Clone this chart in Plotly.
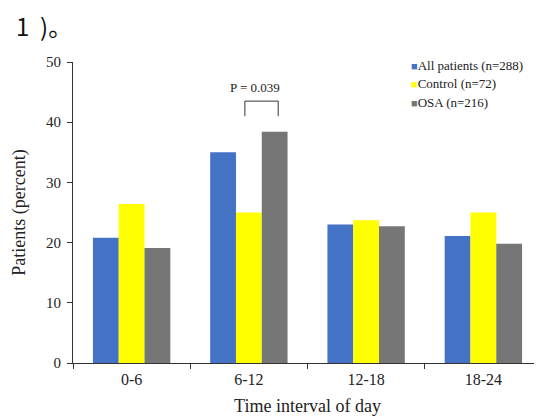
import plotly.graph_objects as go

categories = ["0-6", "6-12", "12-18", "18-24"]
all_patients = [20.8, 35.0, 23.0, 21.1]
control = [26.4, 25.0, 23.7, 25.0]
osa = [19.1, 38.4, 22.7, 19.8]
series_names = ["All patients (n=288)", "Control (n=72)", "OSA (n=216)"]
colors = ["#4472C4", "#FFFF00", "#767676"]

serif = "Liberation Serif, Times New Roman, serif"

fig = go.Figure()
for name, vals, col in zip(series_names, [all_patients, control, osa], colors):
    fig.add_trace(go.Bar(x=categories, y=vals, name=name, marker_color=col,
                         marker_line_width=0, showlegend=False))

# significance bracket
line = dict(color="#333333", width=1)
fig.add_shape(type="line", xref="x", yref="y", x0=0.966, x1=0.966, y0=41.0, y1=43.5, line=line)
fig.add_shape(type="line", xref="x", yref="y", x0=0.966, x1=1.25, y0=43.5, y1=43.5, line=line)
fig.add_shape(type="line", xref="x", yref="y", x0=1.25, x1=1.25, y0=41.0, y1=43.5, line=line)
fig.add_annotation(x=1.05, y=45.8, xref="x", yref="y", text="P = 0.039", showarrow=False,
                   font=dict(family=serif, size=13, color="#222222"))

# legend drawn as text rows
legend_y = [0.990, 0.927, 0.864]
for name, col, ly in zip(series_names, colors, legend_y):
    fig.add_annotation(x=0.716, y=ly, xref="paper", yref="paper", xanchor="left", yanchor="middle",
                       showarrow=False,
                       text=f"<span style='color:{col};font-size:11px'>■</span>{name}",
                       font=dict(family=serif, size=13, color="#222222"))

fig.update_layout(
    width=534, height=408,
    margin=dict(l=65, r=0, t=54, b=53),
    paper_bgcolor="white", plot_bgcolor="white",
    barmode="group", bargap=0.34, bargroupgap=0,
    font=dict(family=serif, color="#222222"),
    showlegend=False,
)
fig.update_xaxes(showline=True, linecolor="#333333", linewidth=1, ticks="outside",
                 tickson="boundaries", ticklen=5, tickcolor="#333333", ticklabelstandoff=2,
                 tickfont=dict(family=serif, size=16, color="#222222"),
                 title=dict(text="Time interval of day", font=dict(family=serif, size=18, color="#222222"), standoff=14),
                 showgrid=False)
fig.update_yaxes(range=[0, 50], dtick=10, showline=True, linecolor="#333333", linewidth=1,
                 ticks="outside", ticklen=5, tickcolor="#333333", showgrid=False, zeroline=False,
                 ticklabelstandoff=3,
                 tickfont=dict(family=serif, size=15, color="#222222"),
                 title=dict(text="Patients (percent)", font=dict(family=serif, size=18, color="#222222"), standoff=15))

fig.add_annotation(x=-0.125, y=1.12, xref="paper", yref="paper", xanchor="left", yanchor="middle",
                   text="1&nbsp; )。", showarrow=False,
                   font=dict(family="Noto Sans CJK SC, Noto Sans, sans-serif", size=24, color="#111111"))

fig.write_html("out.html")
